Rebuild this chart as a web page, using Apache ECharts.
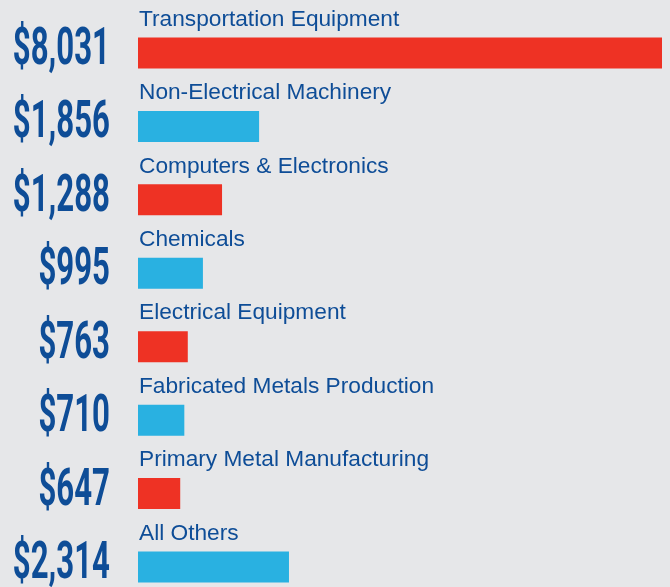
<!DOCTYPE html>
<html>
<head>
<meta charset="utf-8">
<script src="https://cdn.jsdelivr.net/npm/echarts@6/dist/echarts.min.js"></script>
<style>
  html, body { margin: 0; padding: 0; background: #e6e7e9; }
  #chart { width: 670px; height: 587px; }
</style>
</head>
<body>
<div id="chart"></div>
<script>
var categories = [
  "Transportation Equipment",
  "Non-Electrical Machinery",
  "Computers & Electronics",
  "Chemicals",
  "Electrical Equipment",
  "Fabricated Metals Production",
  "Primary Metal Manufacturing",
  "All Others"
];
var values = [8031, 1856, 1288, 995, 763, 710, 647, 2314];
var valueLabels = ["$8,031", "$1,856", "$1,288", "$995", "$763", "$710", "$647", "$2,314"];

var RED = "#ee3224";
var BLUE = "#29b1e1";
var TEXT = "#0e4d97";
var BAR_H = 31;

var chart = echarts.init(document.getElementById("chart"));

function renderItem(params, api) {
  var idx = api.value(1);
  var start = api.coord([0, idx]);
  var end = api.coord([api.value(0), idx]);
  var top = start[1] - BAR_H / 2;
  return {
    type: "group",
    children: [
      {
        type: "rect",
        shape: { x: start[0], y: top, width: end[0] - start[0], height: BAR_H },
        style: { fill: idx % 2 === 0 ? RED : BLUE }
      },
      {
        type: "text",
        x: start[0] + 1,
        y: top - 18,
        style: {
          text: categories[idx],
          fill: TEXT,
          font: "22.7px 'Liberation Sans', Arial, sans-serif",
          align: "left",
          verticalAlign: "middle"
        }
      },
      {
        type: "text",
        x: 110,
        y: start[1] - 2,
        scaleX: 0.6,
        style: {
          text: valueLabels[idx],
          fill: TEXT,
          font: "bold 52px Roboto, sans-serif",
          align: "right",
          verticalAlign: "middle"
        }
      }
    ]
  };
}

var option = {
  backgroundColor: "#e6e7e9",
  animation: false,
  grid: { left: 138, right: 8, top: 16.3, height: 587.4, outerBoundsMode: "none" },
  xAxis: { type: "value", min: 0, max: 8031, show: false },
  yAxis: { type: "category", data: categories, inverse: true, show: false },
  series: [
    {
      type: "custom",
      renderItem: renderItem,
      clip: false,
      data: values.map(function (v, i) { return [v, i]; })
    }
  ]
};

chart.setOption(option);
</script>
</body>
</html>
